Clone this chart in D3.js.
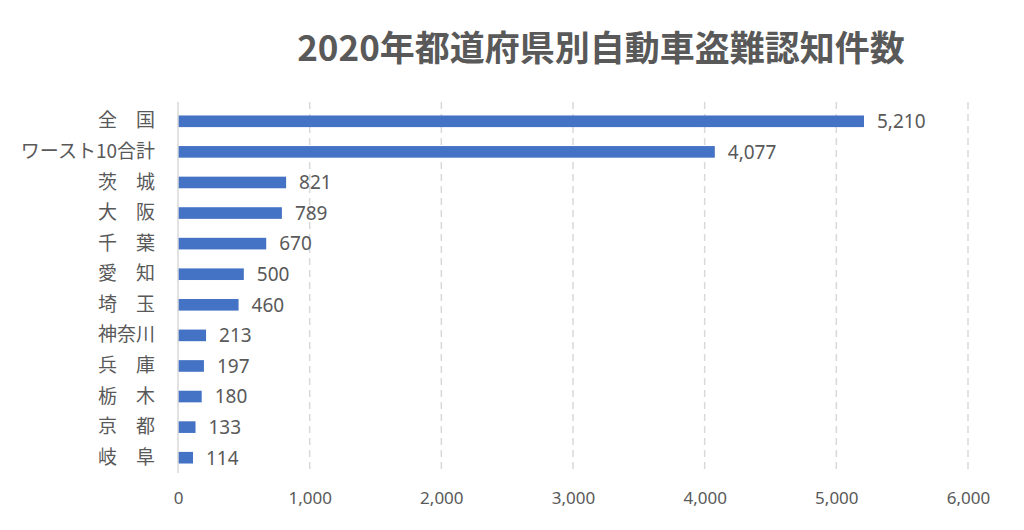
<!DOCTYPE html>
<html><head><meta charset="utf-8">
<script src="https://cdn.jsdelivr.net/npm/d3@7/dist/d3.min.js"></script>
<style>body{margin:0;background:#fff;}svg{display:block;font-family:"Noto Sans CJK JP","Noto Sans",sans-serif;}</style>
</head><body>
<script>
const categories = ["全　国","ワースト10合計","茨　城","大　阪","千　葉","愛　知","埼　玉","神奈川","兵　庫","栃　木","京　都","岐　阜"];
const values = [5210,4077,821,789,670,500,460,213,197,180,133,114];
const tickValues = [0,1000,2000,3000,4000,5000,6000];
const title = "2020年都道府県別自動車盗難認知件数";

const W = 1024, H = 530;
const m = {left:178, right:56, top:106, bottom:57};
const svg = d3.select("body").append("svg").attr("width",W).attr("height",H);

const x = d3.scaleLinear().domain([0,6000]).range([m.left, W-m.right]);
const y = d3.scaleBand().domain(categories).range([m.top, H-m.bottom]).paddingInner(0.62).paddingOuter(0.31);

svg.append("text").attr("x",601).attr("y",61).attr("text-anchor","middle")
  .attr("font-size",35).attr("font-weight","bold").attr("fill","#595959").text(title);

// grid
svg.append("g").selectAll("line").data(tickValues.slice(1)).join("line")
  .attr("x1",d=>x(d)).attr("x2",d=>x(d)).attr("y1",m.top-4).attr("y2",H-m.bottom)
  .attr("stroke","#d9d9d9").attr("stroke-width",1.5).attr("stroke-dasharray","7,5");

// axis x
const xAxis = d3.axisBottom(x).tickValues(tickValues).tickFormat(d3.format(",")).tickSize(0).tickPadding(0);
const gx = svg.append("g").attr("transform",`translate(0,${H-m.bottom})`).call(xAxis);
gx.select(".domain").remove();
gx.selectAll("text").attr("font-size",17).attr("fill","#595959").attr("dy","1.85em").attr("font-family","'Noto Sans',sans-serif").style("font-stretch","condensed");

// bars
svg.append("g").selectAll("rect").data(values).join("rect")
  .attr("x",x(0)).attr("y",(d,i)=>y(categories[i]))
  .attr("width",d=>x(d)-x(0)).attr("height",y.bandwidth())
  .attr("fill","#4472C4");

// y axis line
svg.append("line").attr("x1",x(0)).attr("x2",x(0)).attr("y1",m.top-4).attr("y2",H-m.bottom)
  .attr("stroke","#d9d9d9").attr("stroke-width",1.5);

// category labels
const yAxis = d3.axisLeft(y).tickSize(0).tickPadding(23);
const gy = svg.append("g").attr("transform",`translate(${m.left},0)`).call(yAxis);
gy.select(".domain").remove();
gy.selectAll("text").attr("font-size",19).attr("fill","#595959").attr("font-family","'Noto Sans CJK JP',sans-serif");

// value labels
svg.append("g").selectAll("text").data(values).join("text")
  .attr("x",d=>x(d)+13).attr("y",(d,i)=>y(categories[i])+y.bandwidth()/2)
  .attr("dy","0.36em").attr("font-size",19).attr("fill","#595959")
  .attr("font-family","'Noto Sans','Open Sans',sans-serif")
  .text(d=>d3.format(",")(d));
</script>
</body></html>
